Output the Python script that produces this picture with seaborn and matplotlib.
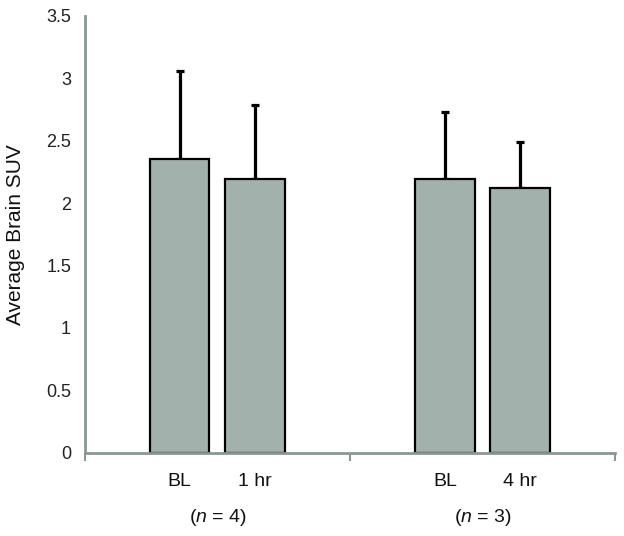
import matplotlib
matplotlib.use("Agg")
import matplotlib.pyplot as plt
import matplotlib.transforms as mtransforms
import seaborn as sns
import numpy as np

# bar positions on a 0..2 axis (two groups), labels and values
positions = [0.357, 0.642, 1.358, 1.640]
bar_labels = ['BL', '1 hr', 'BL', '4 hr']
mean_suv = [2.35, 2.19, 2.19, 2.12]
sd_suv = [0.71, 0.60, 0.54, 0.37]
group_centers = [0.5, 1.5]
group_labels = ['($\\mathit{n}$ = 4)', '($\\mathit{n}$ = 3)']

sns.set_style("white")
plt.rcParams['font.family'] = ['Liberation Sans', 'DejaVu Sans']
plt.rcParams['mathtext.fontset'] = 'custom'
plt.rcParams['mathtext.it'] = 'Liberation Sans:italic'
plt.rcParams['mathtext.rm'] = 'Liberation Sans'

axis_grey = '#8a9793'
bar_fill = '#a3b1ad'

fig = plt.figure(figsize=(6.24, 5.36), dpi=100)
ax = fig.add_axes([0.1362, 0.1556, 0.8494, 0.8146])

sns.barplot(x=positions, y=mean_suv, native_scale=True, width=0.8,
            color=bar_fill, saturation=1, edgecolor='black', linewidth=1.6,
            errorbar=None, ax=ax, zorder=2)
ax.errorbar(positions, mean_suv, yerr=[np.zeros(len(sd_suv)), sd_suv],
            fmt='none', ecolor='black', elinewidth=2.3, capsize=2.6,
            capthick=2.3, zorder=1)

ax.set_xlim(0, 2)
ax.set_ylim(0, 3.5)
ax.set_yticks(np.arange(0, 3.51, 0.5))
ax.set_yticklabels(['0', '0.5', '1', '1.5', '2', '2.5', '3', '3.5'])
ax.tick_params(axis='y', length=0, pad=10, labelsize=13, labelcolor='#222222')

ax.set_xticks([0, 1, 2])
ax.set_xticklabels([])
ax.tick_params(axis='x', which='major', direction='out', length=6,
               width=1.5, color=axis_grey, bottom=True)
ax.set_xticks(positions, minor=True)
ax.set_xticklabels(bar_labels, minor=True)
ax.tick_params(axis='x', which='minor', length=0, pad=14.5, labelsize=14,
               labelcolor='#111111')

trans = mtransforms.blended_transform_factory(ax.transData, fig.transFigure)
for xc, lab in zip(group_centers, group_labels):
    ax.text(xc, 1 - 517 / 536, lab, transform=trans, ha='center', va='center',
            fontsize=14, color='#111111')

ax.set_ylabel('Average Brain SUV', fontsize=15, color='#111111')
ax.yaxis.set_label_coords((25 - 85) / 530, 0.5)

for side in ['top', 'right']:
    ax.spines[side].set_visible(False)
for side in ['left', 'bottom']:
    ax.spines[side].set_color(axis_grey)
    ax.spines[side].set_linewidth(2)

fig.savefig('out.png', dpi=100)
